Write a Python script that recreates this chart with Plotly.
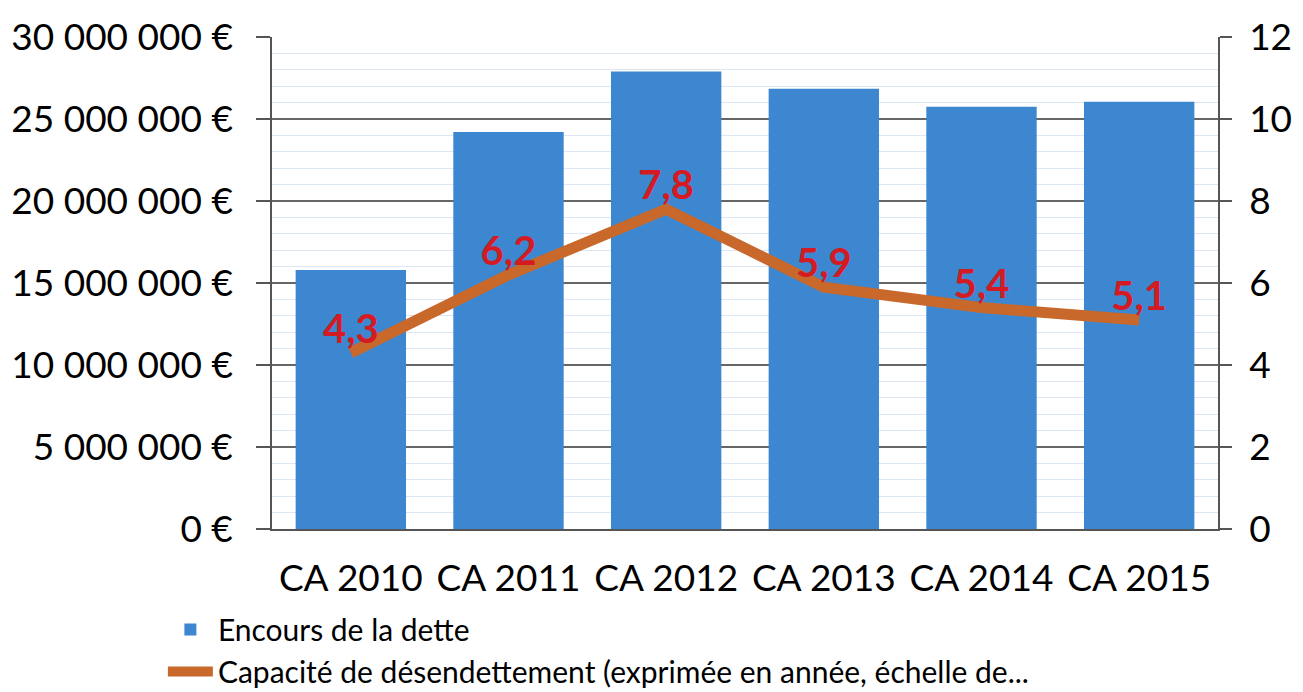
import plotly.graph_objects as go

categories = ["CA 2010", "CA 2011", "CA 2012", "CA 2013", "CA 2014", "CA 2015"]
encours = [15800000, 24200000, 27900000, 26850000, 25750000, 26050000]
capacite = [4.3, 6.2, 7.8, 5.9, 5.4, 5.1]

FONT = "Lato, 'Open Sans', sans-serif"

fig = go.Figure()
fig.add_trace(go.Bar(
    x=categories, y=encours, name="Encours de la dette",
    marker=dict(color="#3d86d0", line=dict(width=0)),
    yaxis="y",
))
fig.add_trace(go.Scatter(
    x=categories, y=capacite,
    name="Capacité de désendettement (exprimée en année, échelle de...",
    mode="lines+text", yaxis="y2",
    line=dict(color="#c8692b", width=11),
    text=[f"{v:.1f}".replace(".", ",") for v in capacite],
    textposition="top center",
    textfont=dict(color="#d41a22", size=40, family=FONT, weight="bold"),
))

fig.update_layout(
    width=1303, height=692,
    margin=dict(l=272, r=85, t=37, b=163, autoexpand=False),
    paper_bgcolor="white", plot_bgcolor="white",
    separators=", ",
    font=dict(family=FONT, color="black", size=37),
    bargap=0.3,
    showlegend=True,
    legend=dict(
        orientation="v", xref="container", yref="container",
        x=0.125, y=0.128, xanchor="left", yanchor="top",
        font=dict(size=30, family=FONT), tracegroupgap=0, itemwidth=45,
        bgcolor="rgba(0,0,0,0)",
    ),
    xaxis=dict(
        showline=True, linecolor="#555", linewidth=1.5,
        ticks="", showgrid=False,
        tickfont=dict(size=37), ticklabelstandoff=16,
    ),
    yaxis=dict(
        range=[0, 30000000], dtick=5000000, tickformat=",d", ticksuffix=" €",
        showline=True, linecolor="#555", linewidth=1.5,
        ticks="outside", ticklen=14, tickcolor="#555", tickwidth=1.5,
        showgrid=True, gridcolor="#666", gridwidth=1.5,
        minor=dict(dtick=1000000, showgrid=True, gridcolor="#dce6f4", gridwidth=1),
        zeroline=False, ticklabelstandoff=16,
        tickfont=dict(size=37),
    ),
    yaxis2=dict(
        range=[0, 12], dtick=2, overlaying="y", side="right",
        showline=True, linecolor="#555", linewidth=1.5,
        ticks="outside", ticklen=12, tickcolor="#555", tickwidth=1.5,
        showgrid=False, zeroline=False, ticklabelstandoff=10,
        tickfont=dict(size=37),
    ),
)

fig.write_html("out.html")
